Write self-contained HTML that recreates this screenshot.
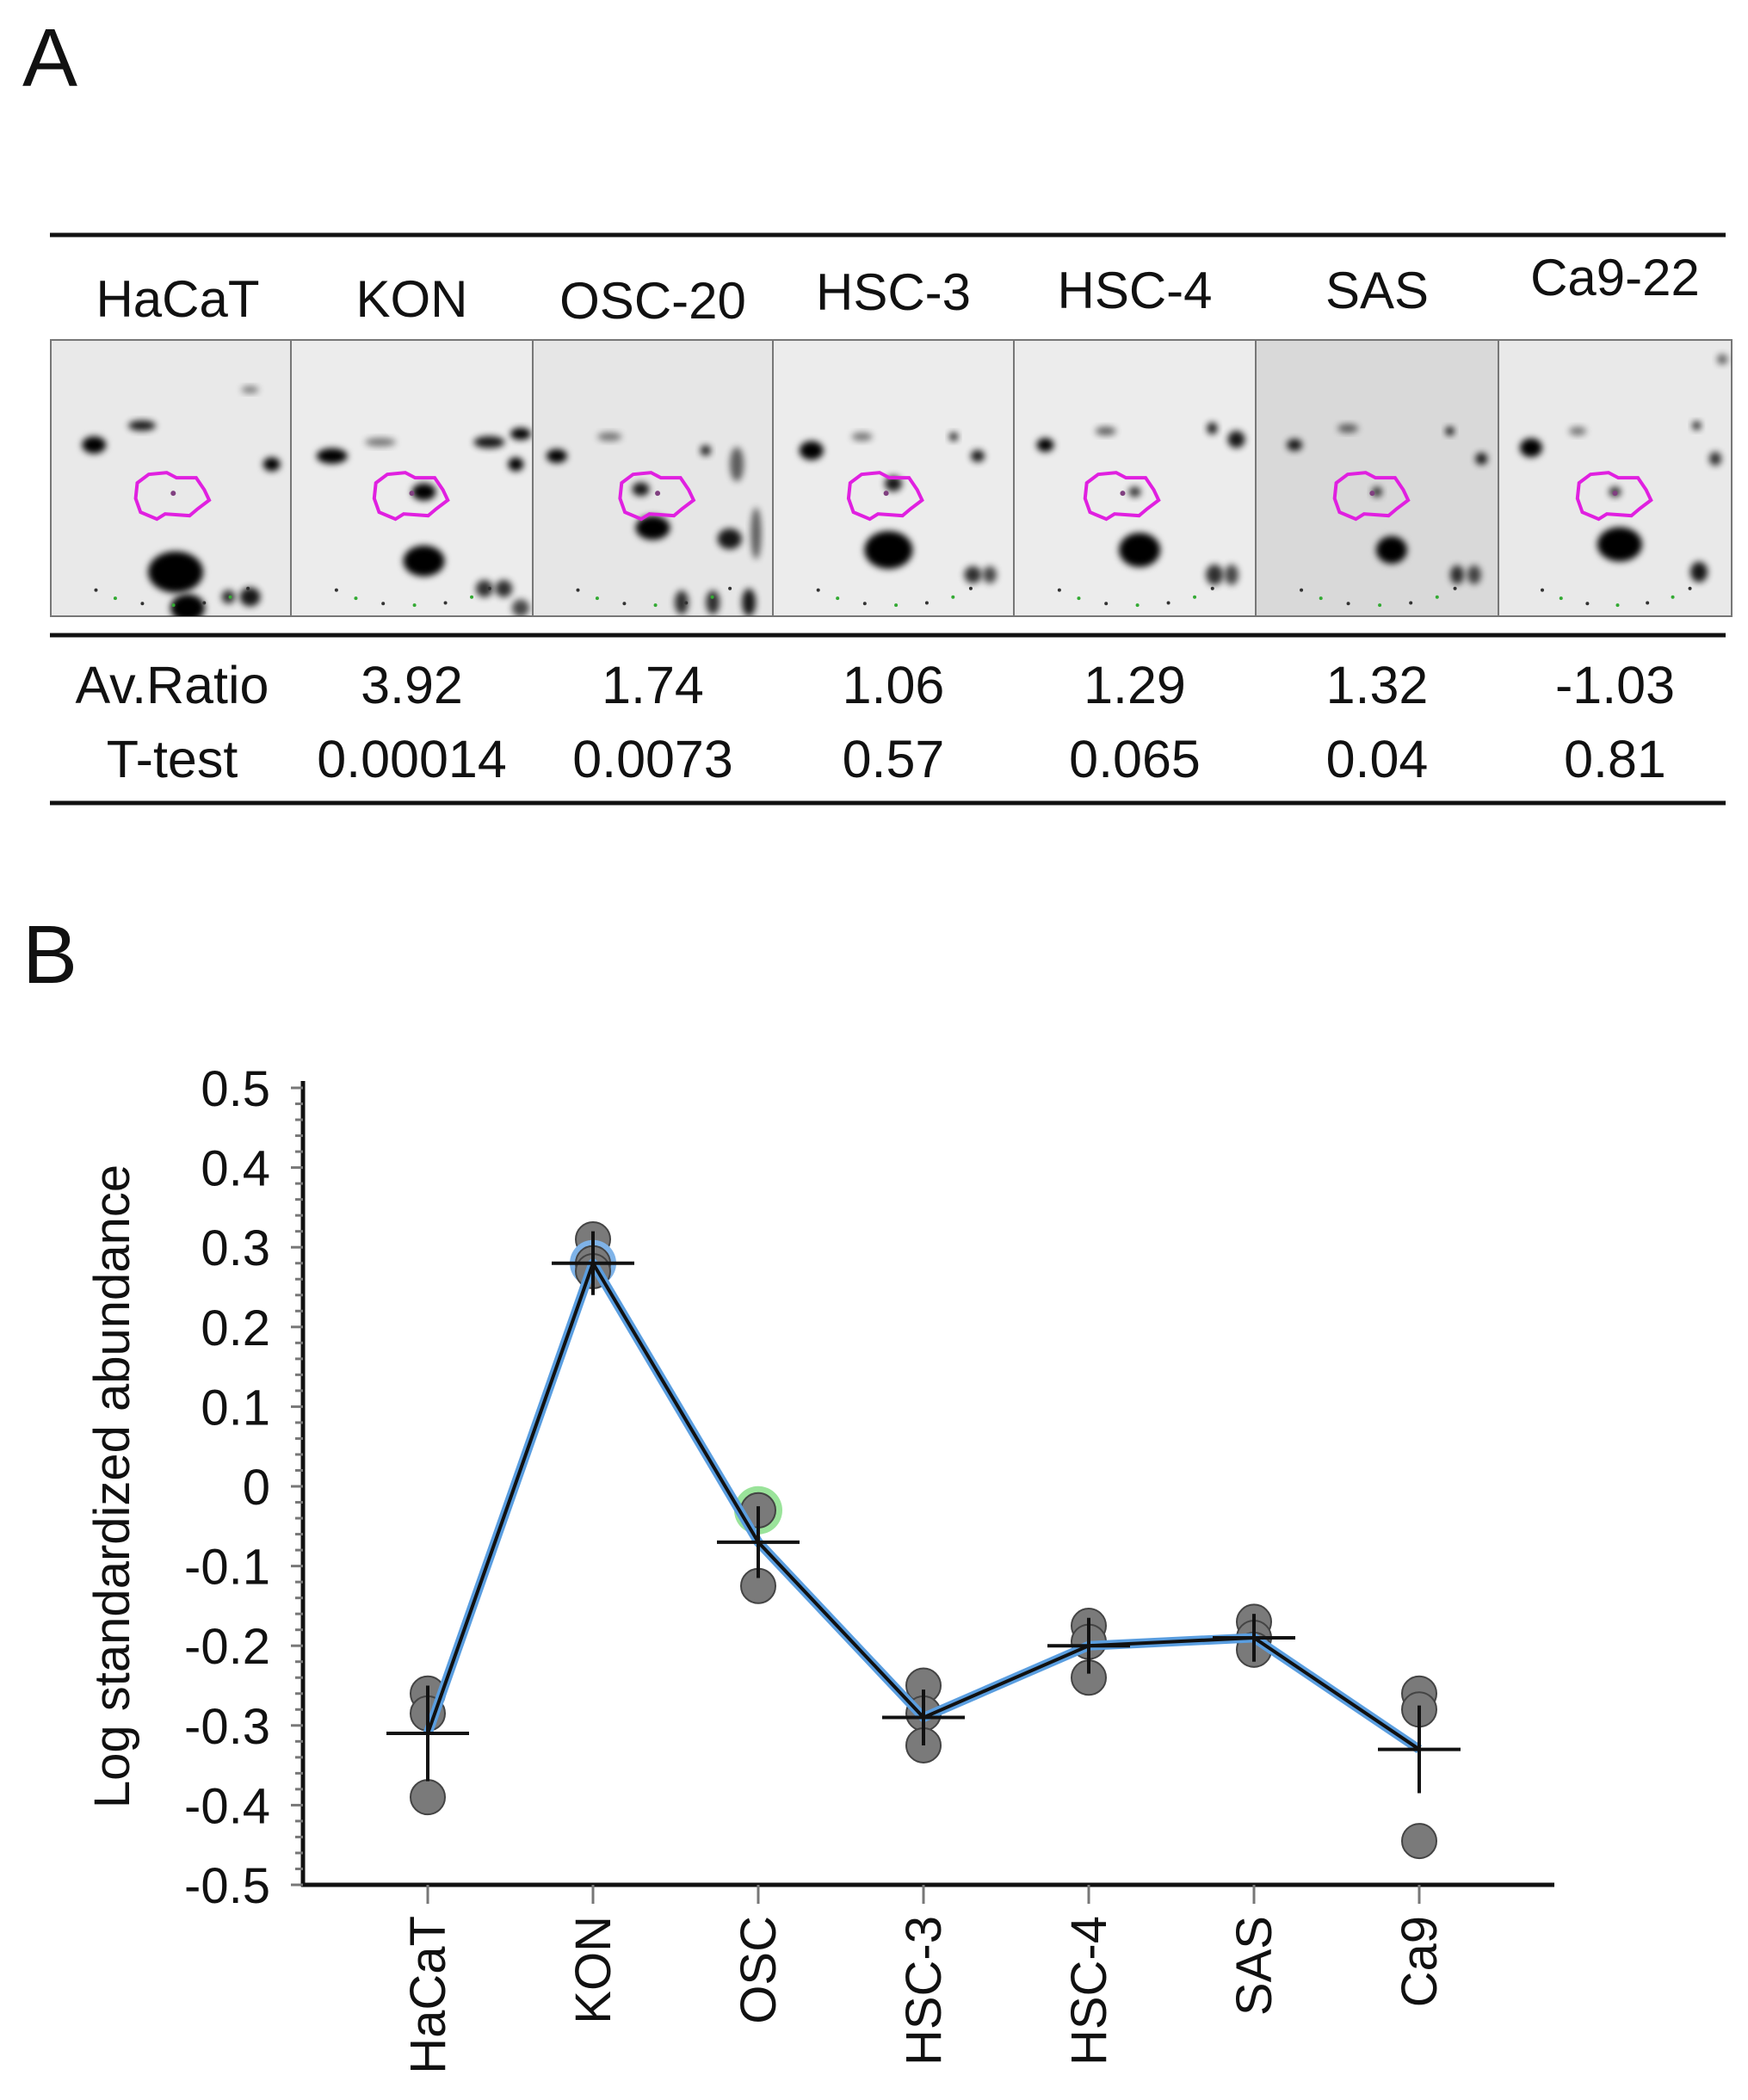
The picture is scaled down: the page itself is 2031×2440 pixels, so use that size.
<!DOCTYPE html>
<html><head><meta charset="utf-8">
<style>
html,body{margin:0;padding:0;background:#fff;}
body{width:2031px;height:2440px;position:relative;overflow:hidden;font-family:"Liberation Sans",Arial,sans-serif;}
svg{position:absolute;left:0;top:0;}
</style></head>
<body>
<svg id="fig" width="2031" height="2440" viewBox="0 0 2031 2440">
<defs>
<filter id="blur4" x="-50%" y="-50%" width="200%" height="200%"><feGaussianBlur stdDeviation="4"/></filter>
</defs>
<text x="26" y="100" font-size="96" fill="#111">A</text>
<text x="26" y="1142" font-size="96" fill="#111">B</text>
<g id="panelA"></g>
<g id="panelB"></g>
</svg>
<script>
// ---------- Panel A data ----------
var cellLines = ["HaCaT","KON","OSC-20","HSC-3","HSC-4","SAS","Ca9-22"];
var avRatio = ["","3.92","1.74","1.06","1.29","1.32","-1.03"];
var tTest = ["","0.00014","0.0073","0.57","0.065","0.04","0.81"];

// ---------- Panel B data ----------
var categories = ["HaCaT","KON","OSC","HSC-3","HSC-4","SAS","Ca9"];
var replicates = [[-0.26,-0.285,-0.39],[0.31,0.28,0.27],[-0.03,-0.125],[-0.25,-0.285,-0.325],[-0.175,-0.195,-0.24],[-0.17,-0.19,-0.205],[-0.26,-0.28,-0.445]];
var means = [-0.31,0.28,-0.07,-0.29,-0.20,-0.19,-0.33];
var errors = [0.06,0.04,0.045,0.035,0.035,0.03,0.055];
var yTicks = [0.5,0.4,0.3,0.2,0.1,0,-0.1,-0.2,-0.3,-0.4,-0.5];
var yTickLabels = ["0.5","0.4","0.3","0.2","0.1","0","-0.1","-0.2","-0.3","-0.4","-0.5"];

var NS="http://www.w3.org/2000/svg";
function mk(tag,attrs,parent){var e=document.createElementNS(NS,tag);for(var k in attrs)e.setAttribute(k,attrs[k]);parent.appendChild(e);return e;}

// ---------- Panel A ----------
var A=document.getElementById('panelA');
var r1=mk('line',{x1:58,y1:273,x2:2005,y2:273,stroke:'#111','stroke-width':5},A);


var r2=mk('line',{x1:58,y1:738,x2:2005,y2:738,stroke:'#111','stroke-width':5},A);


var r3=mk('line',{x1:58,y1:933,x2:2005,y2:933,stroke:'#111','stroke-width':5},A);



var panelEdges=[59,338,619,898,1178,1459,1741,2012];
var headerY=[368,368,370,360,358,358,343];
var bgs=['#e9e9e9','#ececec','#e6e6e6','#ececec','#ececec','#d9d9d9','#e9e9e9'];
var spots=[
 [[0.18,0.38,14,10,1],[0.38,0.31,16,6,0.9],[0.92,0.45,10,8,1],[0.83,0.18,10,4,0.5],[0.52,0.84,32,24,1],[0.57,0.97,20,16,1],[0.83,0.93,12,11,0.9],[0.74,0.93,8,8,0.8]],
 [[0.17,0.42,18,9,1],[0.37,0.37,18,5,0.5],[0.82,0.37,18,7,0.9],[0.95,0.34,12,7,1],[0.93,0.45,9,8,1],[0.55,0.55,14,10,1],[0.55,0.8,24,18,1],[0.8,0.9,10,10,0.8],[0.88,0.9,10,10,0.8],[0.95,0.97,10,10,0.7]],
 [[0.1,0.42,12,8,1],[0.32,0.35,14,5,0.5],[0.72,0.4,6,6,0.9],[0.85,0.45,8,20,0.6],[0.45,0.54,10,8,0.9],[0.5,0.68,20,14,1],[0.82,0.72,14,12,0.9],[0.93,0.7,6,30,0.6],[0.62,0.95,8,14,0.8],[0.75,0.95,8,14,0.8],[0.9,0.95,8,16,0.9]],
 [[0.16,0.4,14,11,1],[0.37,0.35,12,5,0.5],[0.75,0.35,5,5,0.9],[0.85,0.42,8,7,0.9],[0.5,0.52,10,9,0.9],[0.48,0.76,28,22,1],[0.83,0.85,10,10,0.8],[0.9,0.85,8,10,0.7]],
 [[0.13,0.38,10,8,1],[0.38,0.33,12,5,0.6],[0.82,0.32,6,7,0.9],[0.92,0.36,10,10,0.9],[0.5,0.55,7,6,0.8],[0.52,0.76,24,20,1],[0.83,0.85,10,12,0.8],[0.9,0.85,8,12,0.7]],
 [[0.16,0.38,9,7,0.9],[0.38,0.32,12,5,0.6],[0.8,0.33,5,5,1],[0.93,0.43,7,7,0.9],[0.5,0.55,6,6,0.8],[0.56,0.76,18,16,1],[0.83,0.85,8,11,0.8],[0.9,0.85,8,11,0.7]],
 [[0.14,0.39,13,11,1],[0.34,0.33,10,5,0.5],[0.85,0.31,5,5,0.9],[0.93,0.43,7,8,0.8],[0.5,0.55,7,6,0.8],[0.52,0.74,26,20,1],[0.86,0.84,10,12,0.9],[0.96,0.07,6,6,0.6]]
];
var contourCx=[0.51,0.5,0.52,0.47,0.45,0.48,0.5];
for(var i=0;i<7;i++){
  var x0=panelEdges[i], w=panelEdges[i+1]-x0, y0=395, h=321;
  var g=mk('g',{},A);
  
  
  mk('rect',{x:x0,y:y0,width:w,height:h,fill:bgs[i],stroke:'#777','stroke-width':2},g);
  var cp=mk('clipPath',{id:'cp'+i},g);
  mk('rect',{x:x0,y:y0,width:w,height:h},cp);
  var sg=mk('g',{'clip-path':'url(#cp'+i+')'},g);
  spots[i].forEach(function(s){
    mk('ellipse',{cx:x0+s[0]*w,cy:y0+s[1]*h,rx:s[2],ry:s[3],fill:'#000',opacity:s[4],filter:'url(#blur4)'},sg);
  });
  for(var k=0;k<7;k++){
    var a=Math.PI*(0.15+k*0.12);
    mk('circle',{cx:x0+w*0.5-Math.cos(a)*w*0.35,cy:y0+h*0.86+Math.sin(a)*h*0.1,r:2,fill:(k%2?'#3a3':'#333')},sg);
  }
  var cx=x0+contourCx[i]*w, cy=y0+h*0.555;
  var pts=[[-44,-12],[-30,-22],[-8,-24],[4,-18],[28,-18],[38,-4],[44,8],[30,18],[20,26],[-10,24],[-20,30],[-40,22],[-46,6]];
  var c=mk('polygon',{points:pts.map(function(p){return (cx+p[0]*0.95)+','+(cy+p[1]);}).join(' '),fill:'none',stroke:'#e020e0','stroke-width':4},sg);
  
  
  mk('circle',{cx:cx,cy:cy,r:3,fill:'#804080'},sg);
  var t=mk('text',{x:x0+w/2+(i==0?8:0),y:headerY[i],'font-size':60,'text-anchor':'middle',fill:'#111'},A);
  t.textContent=cellLines[i];
  
  
  if(i>0){
    var t1=mk('text',{x:x0+w/2,y:817,'font-size':61,'text-anchor':'middle',fill:'#111'},A);
    t1.textContent=avRatio[i];
    
    
    var t2=mk('text',{x:x0+w/2,y:903,'font-size':61,'text-anchor':'middle',fill:'#111'},A);
    t2.textContent=tTest[i];
    
    
  }
}
var la=mk('text',{x:200,y:817,'font-size':61,'text-anchor':'middle',fill:'#111'},A);
la.textContent='Av.Ratio';


var lt=mk('text',{x:200,y:903,'font-size':61,'text-anchor':'middle',fill:'#111'},A);
lt.textContent='T-test';



// ---------- Panel B ----------
var B=document.getElementById('panelB');
var axX=352, yTop=1264, yBot=2190, xStart=497, xStep=192;
function ys(v){return yTop+(0.5-v)/1.0*(yBot-yTop);}
function xs(i){return xStart+i*xStep;}

var ya=mk('line',{x1:axX,y1:1256,x2:axX,y2:yBot+2,stroke:'#111','stroke-width':5},B);


var xa=mk('line',{x1:axX-2,y1:yBot,x2:1806,y2:yBot,stroke:'#111','stroke-width':5},B);


for(var m=0;m<=50;m++){
  var v=0.5-m*0.02;
  mk('line',{x1:axX-(m%5==0?14:9),y1:ys(v),x2:axX,y2:ys(v),stroke:'#777','stroke-width':3},B);
}
yTicks.forEach(function(v,i){
  var t=mk('text',{x:314,y:ys(v)+21,'font-size':58,'text-anchor':'end',fill:'#111'},B);
  t.textContent=yTickLabels[i];
  
  
});
var yt=mk('text',{x:0,y:0,'font-size':58,'text-anchor':'middle',fill:'#111',transform:'translate(150,1727) rotate(-90)'},B);
yt.textContent='Log standardized abundance';



categories.forEach(function(c,i){
  mk('line',{x1:xs(i),y1:yBot,x2:xs(i),y2:yBot+22,stroke:'#777','stroke-width':3},B);
  var t=mk('text',{x:0,y:0,'font-size':58,'text-anchor':'end',fill:'#111',transform:'translate('+(xs(i)+20)+','+(yBot+36)+') rotate(-90)'},B);
  t.textContent=c;
  
  
});

replicates.forEach(function(arr,i){
  arr.forEach(function(v,j){
    if(i==2&&j==0){mk('circle',{cx:xs(i),cy:ys(v),r:28,fill:'#8fe08f',opacity:0.9},B);}
    if(i==1&&j==1){mk('circle',{cx:xs(i),cy:ys(v),r:27,fill:'#7fb3e8'},B);}
    var d=mk('circle',{cx:xs(i),cy:ys(v),r:20,fill:'#7a7a7a',stroke:'#444','stroke-width':2},B);
    
    
  });
});
var pts=means.map(function(v,i){return xs(i)+','+ys(v);}).join(' ');
var bl=mk('polyline',{points:pts,fill:'none',stroke:'#5a9ee0','stroke-width':11,'stroke-linejoin':'round'},B);


var ml=mk('polyline',{points:pts,fill:'none',stroke:'#111','stroke-width':4,'stroke-linejoin':'round'},B);


means.forEach(function(v,i){
  var g=mk('g',{},B);
  
  
  mk('line',{x1:xs(i)-48,y1:ys(v),x2:xs(i)+48,y2:ys(v),stroke:'#111','stroke-width':4},g);
  mk('line',{x1:xs(i),y1:ys(v+errors[i]),x2:xs(i),y2:ys(v-errors[i]),stroke:'#111','stroke-width':4},g);
});
</script>
</body></html>
